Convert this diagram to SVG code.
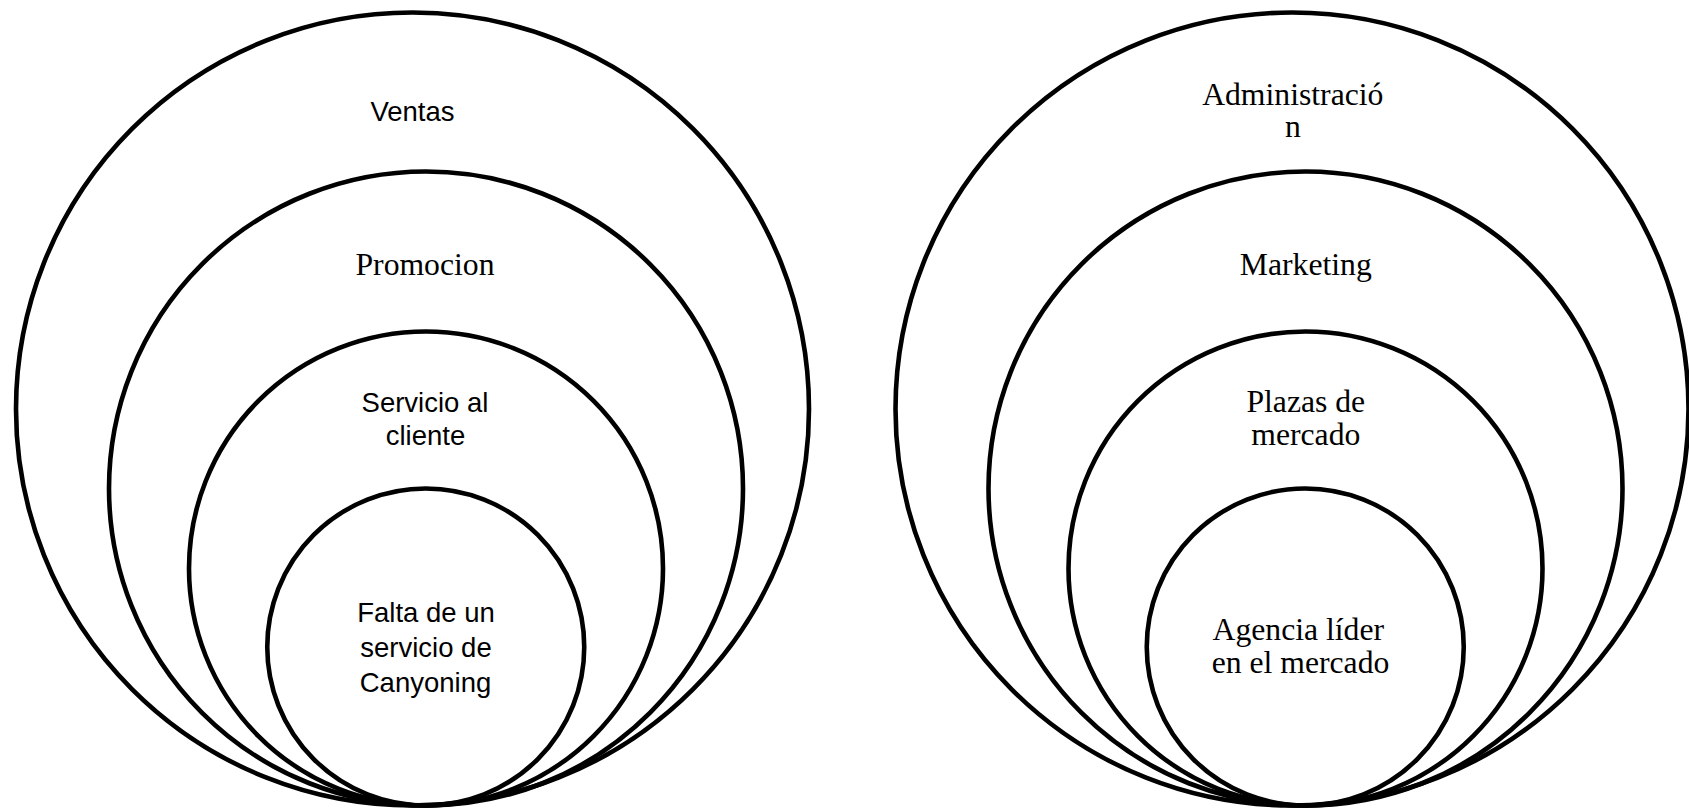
<svg xmlns="http://www.w3.org/2000/svg" width="1689" height="809" viewBox="0 0 1689 809">
<style>
.c{fill:none;stroke:#000;stroke-width:4.6}
.s{font-family:"Liberation Sans",Arial,sans-serif;font-size:27.5px;fill:#000;text-anchor:middle}
.t{font-family:"Liberation Serif","Times New Roman",serif;font-size:31.7px;fill:#000;text-anchor:middle}
</style>
<rect width="1689" height="809" fill="#fff"/>
<g id="left">
<g id="ventas"><circle class="c" cx="412.5" cy="409" r="396.5"/><text class="s" x="412.5" y="120.7">Ventas</text></g>
<g id="promocion"><circle class="c" cx="426" cy="488.5" r="317"/><text class="t" x="425" y="275">Promocion</text></g>
<g id="servicio"><circle class="c" cx="426" cy="568.5" r="237"/><text class="s" x="425" y="411.7">Servicio al</text><text class="s" x="425.5" y="445">cliente</text></g>
<g id="falta"><circle class="c" cx="425.75" cy="647" r="158.5"/><text class="s" x="426" y="621.7">Falta de un</text><text class="s" x="426" y="656.7">servicio de</text><text class="s" x="425.5" y="691.7">Canyoning</text></g>
</g>
<g id="right">
<g id="administracion"><circle class="c" cx="1292" cy="409" r="396.5"/><text class="t" x="1292.8" y="105">Administració</text><text class="t" x="1292.8" y="137.3">n</text></g>
<g id="marketing"><circle class="c" cx="1305.5" cy="488.5" r="317"/><text class="t" x="1305.8" y="275">Marketing</text></g>
<g id="plazas"><circle class="c" cx="1305.5" cy="568.5" r="237"/><text class="t" x="1305.8" y="412.3">Plazas de</text><text class="t" x="1305.8" y="445">mercado</text></g>
<g id="agencia"><circle class="c" cx="1305.25" cy="647" r="158.5"/><text class="t" x="1298.3" y="640">Agencia líder</text><text class="t" x="1300.5" y="672.7">en el mercado</text></g>
</g>
<g id="connectors"/>
</svg>
